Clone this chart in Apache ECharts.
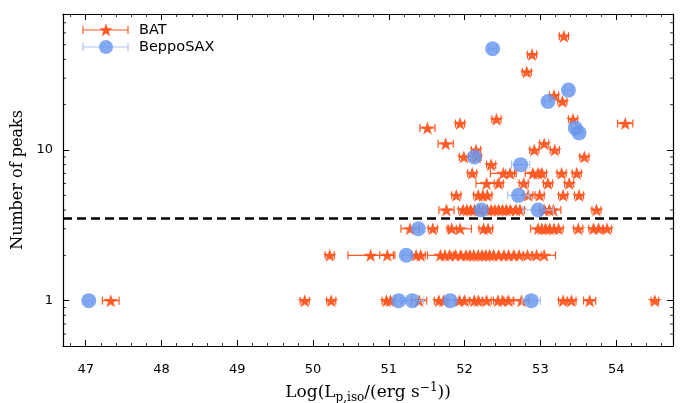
<!DOCTYPE html>
<html>
<head>
<meta charset="utf-8">
<script src="https://cdn.jsdelivr.net/npm/echarts@6/dist/echarts.min.js"></script>
<style>
  html, body { margin: 0; padding: 0; background: #fff; }
  #chart { width: 687px; height: 403px; }
</style>
</head>
<body>
<div id="chart"></div>
<script>
// Each row: [log peak luminosity, number of peaks, half-width of the luminosity error]
const batSample = [
  // one peak
  [47.33, 1, 0.11], [49.89, 1, 0.06], [50.24, 1, 0.06], [50.97, 1, 0.06], [51.02, 1, 0.06],
  [51.40, 1, 0.10], [51.66, 1, 0.06], [51.72, 1, 0.06], [51.93, 1, 0.06], [52.00, 1, 0.06],
  [52.13, 1, 0.06], [52.18, 1, 0.06], [52.29, 1, 0.06], [52.44, 1, 0.06], [52.50, 1, 0.06],
  [52.58, 1, 0.06], [52.75, 1, 0.10], [53.30, 1, 0.06], [53.41, 1, 0.06], [53.65, 1, 0.08],
  [54.51, 1, 0.05],
  // two peaks
  [50.22, 2, 0.06], [50.76, 2, 0.30], [50.98, 2, 0.10], [51.36, 2, 0.06], [51.42, 2, 0.06],
  [51.68, 2, 0.17], [51.74, 2, 0.06], [51.80, 2, 0.06], [51.88, 2, 0.06], [51.95, 2, 0.06],
  [52.02, 2, 0.06], [52.07, 2, 0.06], [52.12, 2, 0.06], [52.18, 2, 0.06], [52.23, 2, 0.06],
  [52.28, 2, 0.06], [52.33, 2, 0.06], [52.38, 2, 0.06], [52.45, 2, 0.06], [52.52, 2, 0.06],
  [52.58, 2, 0.06], [52.65, 2, 0.06], [52.72, 2, 0.06], [52.83, 2, 0.06], [52.95, 2, 0.06],
  [53.05, 2, 0.15],
  // three peaks
  [51.28, 3, 0.12], [51.58, 3, 0.06], [51.83, 3, 0.06], [51.94, 3, 0.15], [52.25, 3, 0.06],
  [52.31, 3, 0.06], [52.97, 3, 0.10], [53.02, 3, 0.06], [53.07, 3, 0.06], [53.12, 3, 0.06],
  [53.18, 3, 0.06], [53.24, 3, 0.06], [53.50, 3, 0.06], [53.70, 3, 0.06], [53.77, 3, 0.06],
  [53.88, 3, 0.06],
  // four peaks
  [51.76, 4, 0.10], [51.98, 4, 0.06], [52.03, 4, 0.06], [52.08, 4, 0.06], [52.13, 4, 0.06],
  [52.19, 4, 0.06], [52.30, 4, 0.06], [52.35, 4, 0.06], [52.40, 4, 0.06], [52.45, 4, 0.06],
  [52.50, 4, 0.06], [52.55, 4, 0.06], [52.60, 4, 0.06], [52.68, 4, 0.06], [52.73, 4, 0.06],
  [53.05, 4, 0.06], [53.12, 4, 0.06], [53.17, 4, 0.10], [53.74, 4, 0.06],
  // five to eleven peaks
  [51.89, 5, 0.06], [52.18, 5, 0.06], [52.24, 5, 0.06], [52.30, 5, 0.06], [52.84, 5, 0.06],
  [52.99, 5, 0.06], [53.30, 5, 0.06], [53.51, 5, 0.06],
  [52.29, 6, 0.14], [52.45, 6, 0.06], [52.78, 6, 0.06], [53.10, 6, 0.06], [53.38, 6, 0.06],
  [52.10, 7, 0.06], [52.51, 7, 0.17], [52.60, 7, 0.06], [52.90, 7, 0.10], [52.97, 7, 0.06],
  [53.02, 7, 0.06], [53.28, 7, 0.06], [53.48, 7, 0.06],
  [52.35, 8, 0.06],
  [51.99, 9, 0.06], [52.16, 9, 0.06], [53.58, 9, 0.06],
  [52.15, 10, 0.06], [52.92, 10, 0.06], [53.19, 10, 0.06],
  [51.75, 11, 0.10], [53.05, 11, 0.06],
  // many peaks
  [51.51, 14, 0.10], [51.94, 15, 0.06], [54.12, 15, 0.10], [52.42, 16, 0.06], [53.43, 16, 0.06],
  [53.29, 21, 0.06], [53.18, 23, 0.06], [52.82, 33, 0.06], [52.89, 43, 0.06], [53.31, 57, 0.06]
];

const saxSample = [
  [47.04, 1, 0.05], [51.13, 1, 0.05], [51.31, 1, 0.15], [51.81, 1, 0.06], [52.88, 1, 0.12],
  [51.23, 2, 0.05], [51.39, 3, 0.05], [52.22, 4, 0.05], [52.97, 4, 0.20], [52.71, 5, 0.14],
  [52.74, 8, 0.12], [52.13, 9, 0.05], [53.51, 13, 0.05], [53.46, 14, 0.05], [53.10, 21, 0.05],
  [53.37, 25, 0.05], [52.37, 47, 0.05]
];

// Horizontal threshold on the number of peaks
const peakThreshold = 3.5;

// Axis ranges and tick values
const xRange = [46.7, 54.75];
const yRange = [0.5, 80];
const yMinorTicks = [0.6, 0.7, 0.8, 0.9, 2, 3, 4, 5, 6, 7, 8, 9, 20, 30, 40, 50, 60, 70];

const batColor = '#FF5722';
const saxColor = '#6495ED';
const saxBarColor = '#a9c3f4';

// five-pointed star outline (outer radius 10, inner radius 4)
const starPts = [[0, -10], [2.35, -3.24], [9.51, -3.09], [3.8, 1.24], [5.88, 8.09], [0, 4],
                 [-5.88, 8.09], [-3.8, 1.24], [-9.51, -3.09], [-2.35, -3.24]];
const starD = 'M' + starPts.map(p => p[0] + ',' + p[1]).join(' L') + ' Z';

const chart = echarts.init(document.getElementById('chart'), null, { renderer: 'canvas' });

function errorBars(rows, color, width, z) {
  return {
    type: 'custom',
    z: z,
    silent: true,
    xAxisIndex: 0,
    yAxisIndex: 0,
    data: rows.map(r => [r[0] - r[2], r[0] + r[2], r[1]]),
    encode: { x: [0, 1], y: 2 },
    renderItem: function (params, api) {
      const a = api.coord([api.value(0), api.value(2)]);
      const b = api.coord([api.value(1), api.value(2)]);
      const h = 4;
      const style = { stroke: color, lineWidth: width, fill: null };
      return {
        type: 'group',
        children: [
          { type: 'line', shape: { x1: a[0], y1: a[1], x2: b[0], y2: b[1] }, style: style },
          { type: 'line', shape: { x1: a[0], y1: a[1] - h, x2: a[0], y2: a[1] + h }, style: style },
          { type: 'line', shape: { x1: b[0], y1: b[1] - h, x2: b[0], y2: b[1] + h }, style: style }
        ]
      };
    }
  };
}

const tickCommon = { inside: true, length: 6, lineStyle: { color: '#000', width: 1 } };
const minorCommon = { show: true, splitNumber: 5, length: 3, lineStyle: { color: '#000', width: 0.8 } };
const lineCommon = { show: true, onZero: false, lineStyle: { color: '#000', width: 1.2 } };

const option = {
  animation: false,
  backgroundColor: '#fff',
  grid: { left: 63, right: 14, top: 14, bottom: 57, containLabel: false, outerBoundsMode: 'none' },
  xAxis: [
    {
      type: 'value', min: xRange[0], max: xRange[1], splitNumber: 8, position: 'bottom',
      axisLine: lineCommon, axisTick: tickCommon, minorTick: minorCommon,
      splitLine: { show: false }, minorSplitLine: { show: false },
      axisLabel: {
        margin: 17, color: '#000', fontFamily: 'DejaVu Sans', fontSize: 13,
        formatter: v => (Math.abs(v - Math.round(v)) < 1e-6 ? String(Math.round(v)) : '')
      },
      name: '{a|Log(L}{b|p,iso}{a|/(erg s}{c|\u22121}{a|))}',
      nameLocation: 'middle', nameGap: 36,
      nameTextStyle: {
        color: '#000', fontFamily: 'DejaVu Serif', fontSize: 17,
        rich: {
          a: { fontFamily: 'DejaVu Serif', fontSize: 17, lineHeight: 22, color: '#000' },
          b: { fontFamily: 'DejaVu Serif', fontSize: 12, lineHeight: 12, verticalAlign: 'bottom', color: '#000' },
          c: { fontFamily: 'DejaVu Serif', fontSize: 12, lineHeight: 12, verticalAlign: 'top', color: '#000' }
        }
      }
    },
    {
      type: 'value', min: xRange[0], max: xRange[1], splitNumber: 8, position: 'top',
      axisLine: lineCommon, axisTick: tickCommon, minorTick: minorCommon,
      splitLine: { show: false }, axisLabel: { show: false }
    }
  ],
  yAxis: [
    {
      type: 'log', logBase: 10, min: yRange[0], max: yRange[1], position: 'left',
      axisLine: lineCommon, axisTick: tickCommon,
      splitLine: { show: false },
      axisLabel: {
        margin: 10, color: '#000', fontFamily: 'DejaVu Sans', fontSize: 13,
        formatter: v => (Math.abs(v - 1) < 1e-6 ? '1' : (Math.abs(v - 10) < 1e-6 ? '10' : ''))
      },
      name: 'Number of peaks', nameLocation: 'middle', nameGap: 32, nameRotate: 90,
      nameTextStyle: { color: '#000', fontFamily: 'DejaVu Serif', fontSize: 16 }
    },
    {
      type: 'log', logBase: 10, min: yRange[0], max: yRange[1], position: 'right',
      axisLine: lineCommon, axisTick: tickCommon,
      splitLine: { show: false }, axisLabel: { show: false }
    }
  ],
  graphic: [
    // legend: BAT
    { type: 'line', shape: { x1: 83, y1: 30, x2: 128, y2: 30 }, style: { stroke: batColor, lineWidth: 1.2 } },
    { type: 'line', shape: { x1: 83, y1: 26, x2: 83, y2: 34 }, style: { stroke: batColor, lineWidth: 1.2 } },
    { type: 'line', shape: { x1: 128, y1: 26, x2: 128, y2: 34 }, style: { stroke: batColor, lineWidth: 1.2 } },
    { type: 'polygon', x: 106, y: 30.5, scaleX: 0.7, scaleY: 0.7, shape: { points: starPts }, style: { fill: batColor } },
    { type: 'text', x: 139, y: 30, style: { text: 'BAT', fill: '#000', font: '14.5px "DejaVu Sans"', verticalAlign: 'middle' } },
    // legend: BeppoSAX
    { type: 'line', shape: { x1: 83, y1: 47, x2: 128, y2: 47 }, style: { stroke: saxBarColor, lineWidth: 1.2 } },
    { type: 'line', shape: { x1: 83, y1: 43, x2: 83, y2: 51 }, style: { stroke: saxBarColor, lineWidth: 1.2 } },
    { type: 'line', shape: { x1: 128, y1: 43, x2: 128, y2: 51 }, style: { stroke: saxBarColor, lineWidth: 1.2 } },
    { type: 'circle', shape: { cx: 106, cy: 47, r: 7 }, style: { fill: saxColor, opacity: 0.8 } },
    { type: 'text', x: 139, y: 47, style: { text: 'BeppoSAX', fill: '#000', font: '14.5px "DejaVu Sans"', verticalAlign: 'middle' } }
  ],
  series: [
    // minor ticks of the logarithmic axis, on both sides
    {
      type: 'custom', silent: true, z: 1,
      data: yMinorTicks.map(v => [xRange[0], v]),
      encode: { x: 0, y: 1 },
      renderItem: function (params, api) {
        const y = api.coord([api.value(0), api.value(1)])[1];
        const cs = params.coordSys;
        const style = { stroke: '#000', lineWidth: 0.8 };
        return {
          type: 'group',
          children: [
            { type: 'line', shape: { x1: cs.x, y1: y, x2: cs.x + 3, y2: y }, style: style },
            { type: 'line', shape: { x1: cs.x + cs.width - 3, y1: y, x2: cs.x + cs.width, y2: y }, style: style }
          ]
        };
      }
    },
    errorBars(batSample, batColor, 1.2, 2),
    {
      name: 'BAT', type: 'scatter', z: 3,
      symbol: 'path://' + starD, symbolSize: [14, 13],
      itemStyle: { color: batColor, opacity: 0.95 },
      data: batSample.map(r => [r[0], r[1]]),
      markLine: {
        silent: true, symbol: ['none', 'none'], label: { show: false },
        lineStyle: { color: '#000', type: [9, 5], width: 2.6 },
        data: [{ yAxis: peakThreshold }]
      }
    },
    errorBars(saxSample, saxBarColor, 1.2, 4),
    {
      name: 'BeppoSAX', type: 'scatter', z: 5,
      symbol: 'circle', symbolSize: 15,
      itemStyle: { color: saxColor, opacity: 0.8 },
      data: saxSample.map(r => [r[0], r[1]])
    }
  ]
};

chart.setOption(option);
</script>
</body>
</html>
